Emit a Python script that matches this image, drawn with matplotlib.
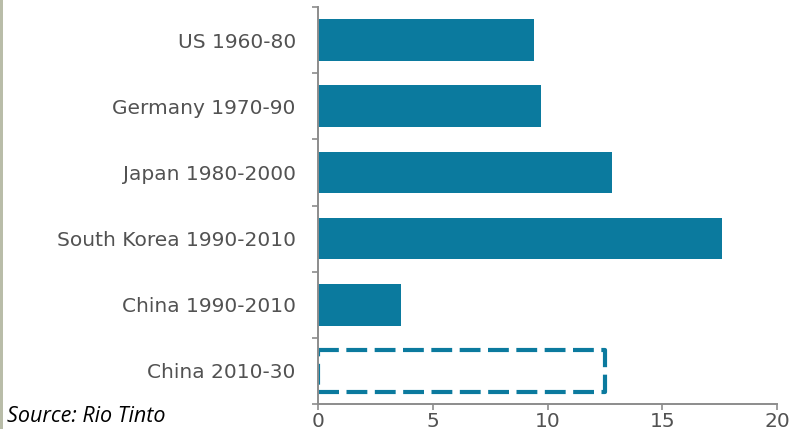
#!/usr/bin/env python3
# -*- coding:utf-8 -*-
import matplotlib
matplotlib.use("Agg")
import matplotlib.pyplot as plt
from matplotlib.ticker import FixedLocator, NullFormatter

# data
labels = ["US 1960-80", "Germany 1970-90", "Japan 1980-2000",
          "South Korea 1990-2010", "China 1990-2010", "China 2010-30"]
values = [9.4, 9.7, 12.8, 17.6, 3.6, 12.5]
projected = [False, False, False, False, False, True]
xticks = [0, 5, 10, 15, 20]

bar_color = "#0b7a9e"
text_color = "#525252"
axis_color = "#8c8c8c"

plt.rcParams["font.family"] = ["DejaVu Sans"]

fig = plt.figure(figsize=(8.05, 4.29), dpi=100)
ax = fig.add_axes([318 / 805, 1 - 404 / 429, (777 - 318) / 805, (404 - 7) / 429])

pos = list(range(len(labels)))
for i, (v, proj) in enumerate(zip(values, projected)):
    if proj:
        ax.barh(i, v, height=0.63, fill=False, edgecolor=bar_color,
                linewidth=3, linestyle=(0, (5, 1.8)), joinstyle="round")
    else:
        ax.barh(i, v, height=0.63, color=bar_color, linewidth=0)

ax.set_xlim(0, 20)
ax.set_ylim(len(labels) - 0.5, -0.5)

# category labels on minor ticks, separators on major ticks
ax.yaxis.set_major_locator(FixedLocator([i - 0.5 for i in range(len(labels) + 1)]))
ax.yaxis.set_major_formatter(NullFormatter())
ax.yaxis.set_minor_locator(FixedLocator(pos))
ax.set_yticklabels(labels, minor=True)
ax.tick_params(axis="y", which="major", length=4.5, width=1.2, color=axis_color)
ax.tick_params(axis="y", which="minor", length=0, pad=16, labelsize=14.5,
               labelcolor=text_color)

ax.set_xticks(xticks)
ax.tick_params(axis="x", length=4, width=1.2, color=axis_color, pad=1.5,
               labelsize=14.5, labelcolor=text_color)

for side in ["top", "right"]:
    ax.spines[side].set_visible(False)
for side in ["left", "bottom"]:
    ax.spines[side].set_color(axis_color)
    ax.spines[side].set_linewidth(1.4)

# thin border strip on the left edge
fig.add_artist(plt.Rectangle((0, 0), 3 / 805, 1, transform=fig.transFigure,
                             color="#b9bda9", linewidth=0))

fig.text(7 / 805, 1 - 422 / 429, "Source: Rio Tinto", family="Open Sans",
         style="italic", fontsize=15.5, color="black", va="baseline")

fig.savefig("out.png", dpi=100)
